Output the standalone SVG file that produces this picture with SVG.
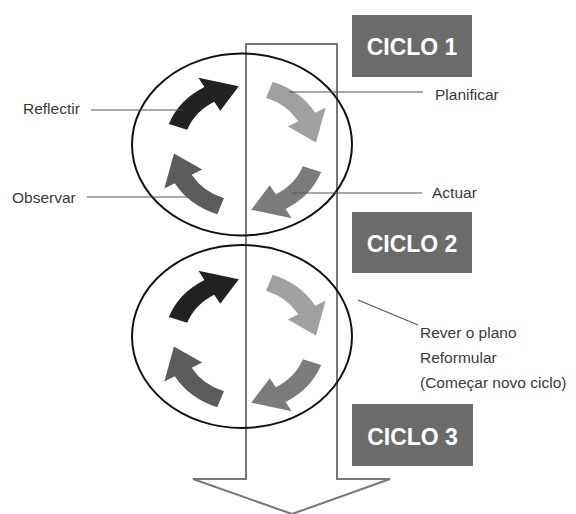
<svg xmlns="http://www.w3.org/2000/svg" width="576" height="514" viewBox="0 0 576 514">
<defs>
<style>
.lbl{font-family:"Liberation Sans",Arial,sans-serif;font-size:15.5px;fill:#3a3a3a}
.box{fill:#6b6b6b}
.boxt{font-family:"Liberation Sans",Arial,sans-serif;font-size:23px;font-weight:bold;fill:#ffffff;text-anchor:middle}
.ell{fill:none;stroke:#111;stroke-width:2}
.lead{stroke:#555;stroke-width:1.2;fill:none}
.big{fill:#fff;stroke:#777;stroke-width:2}
</style>
<path id="carr" d="M24.11,-66.25 A70.5,70.5 0 0 1 61.05,-35.25 L70.15,-40.5 L61.76,-5.4 L37.24,-21.5 L46.33,-26.75 A53.5,53.5 0 0 0 18.3,-50.27 Z"/>
</defs>
<rect width="576" height="514" fill="#fff"/>
<g id="big-arrow">
<path class="big" d="M246,44 L337,44 L337,479 L390,479 L292,514 L193,479 L246,479 Z"/>
</g>
<g id="cycle1">
<ellipse class="ell" cx="242" cy="144.5" rx="110" ry="91"/>
<g transform="translate(245,148) scale(1.15,1)">
<use href="#carr" fill="#a0a0a0"/>
<use href="#carr" fill="#7b7b7b" transform="rotate(90)"/>
<use href="#carr" fill="#5c5c5c" transform="rotate(180)"/>
<use href="#carr" fill="#222222" transform="rotate(270)"/>
</g>
</g>
<g id="cycle2">
<ellipse class="ell" cx="242" cy="336.5" rx="110" ry="91.5"/>
<g transform="translate(245,341) scale(1.15,1)">
<use href="#carr" fill="#a0a0a0"/>
<use href="#carr" fill="#7b7b7b" transform="rotate(90)"/>
<use href="#carr" fill="#5c5c5c" transform="rotate(180)"/>
<use href="#carr" fill="#222222" transform="rotate(270)"/>
</g>
</g>
<g id="connectors">
<line class="lead" x1="91" y1="110" x2="183" y2="110"/>
<line class="lead" x1="87" y1="197" x2="193" y2="197"/>
<line class="lead" x1="289" y1="92" x2="423" y2="92"/>
<line class="lead" x1="292" y1="193" x2="422" y2="193"/>
<line class="lead" x1="358" y1="300" x2="418" y2="325"/>
</g>
<g id="label-reflectir"><text class="lbl" x="23" y="114">Reflectir</text></g>
<g id="label-observar"><text class="lbl" x="12" y="202.5">Observar</text></g>
<g id="label-planificar"><text class="lbl" x="435" y="99.5">Planificar</text></g>
<g id="label-actuar"><text class="lbl" x="432" y="198">Actuar</text></g>
<g id="label-rever">
<text class="lbl" x="420" y="338">Rever o plano</text>
<text class="lbl" x="420" y="363">Reformular</text>
<text class="lbl" x="420" y="388">(Começar novo ciclo)</text>
</g>
<g id="ciclo1"><rect class="box" x="352" y="15" width="120" height="62"/><text class="boxt" x="412" y="55">CICLO 1</text></g>
<g id="ciclo2"><rect class="box" x="352" y="212" width="120" height="61"/><text class="boxt" x="412" y="251.5">CICLO 2</text></g>
<g id="ciclo3"><rect class="box" x="352" y="404" width="121" height="62"/><text class="boxt" x="412.5" y="445">CICLO 3</text></g>
</svg>
